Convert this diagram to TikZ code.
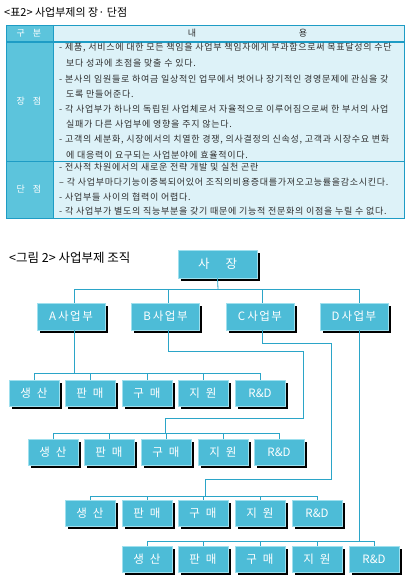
\documentclass[tikz,border=0pt]{standalone}
\usepackage{fontspec}
\setmainfont{Noto Sans CJK KR}
\usetikzlibrary{shadows}
\definecolor{boxc}{HTML}{4DBCD7}
\definecolor{boxedge}{HTML}{9FE0EE}
\definecolor{lcol}{HTML}{2BA5C8}
\definecolor{tcyan}{HTML}{5CC4DC}
\definecolor{tlight}{HTML}{DDF2F8}
\definecolor{tline}{HTML}{1E9CC5}
\definecolor{ttext}{HTML}{2E2E2E}
\begin{document}
\begin{tikzpicture}[x=1pt,y=-1pt,
  box/.style={fill=boxc, draw=boxedge, line width=0.6pt, text=white, inner sep=0pt,
    font=\fontsize{11.5}{13}\selectfont,
    drop shadow={shadow xshift=2.5pt, shadow yshift=-2.5pt, fill=black, opacity=1}},
  topbox/.style={box, minimum width=79pt, minimum height=28pt, font=\fontsize{12.5}{14}\selectfont},
  divbox/.style={box, minimum width=68pt, minimum height=27pt},
  unitbox/.style={box, minimum width=50pt, minimum height=26pt},
  conn/.style={draw=lcol, line width=0.8pt},
  tline/.style={draw=tline, line width=0.9pt},
  ttxt/.style={anchor=west, inner sep=0pt, text=ttext, font=\fontsize{9}{10}\selectfont\addfontfeatures{LetterSpace=8}},
  thead/.style={inner sep=0pt, text=white, font=\fontsize{9}{10}\selectfont},
  title/.style={anchor=west, inner sep=0pt, text=black, font=\fontsize{11}{13}\selectfont}]
\useasboundingbox (0,0) rectangle (412,583);
\fill[white] (0,0) rectangle (412,583);

% ---------- table ----------
\node[title] (t1) at (4,12) {<표2> 사업부제의 장· 단점};
\fill[tlight] (6,25) rectangle (404,218);
\fill[tcyan] (6,25) rectangle (53,218);
\draw[tline] (6,25) rectangle (404,218);
\draw[tline] (53,25) -- (53,218);
\draw[tline, line width=1.3pt] (6,42) -- (404,42);
\draw[tline] (6,161) -- (404,161);

\node[thead] (h1) at (29,33.5) {구\hspace{8pt}분};
\node[thead, text=ttext] (h2) at (192,33.5) {내};
\node[thead, text=ttext] (h3) at (303,33.5) {용};
\node[thead] (h4) at (29,101) {장\hspace{8pt}점};
\node[thead] (h5) at (29,189.5) {단\hspace{8pt}점};

\node[ttxt] (a1) at (59,48) {- 제품, 서비스에 대한 모든 책임을 사업부 책임자에게 부과함으로써 목표달성의 수단};
\node[ttxt] (a2) at (66,63.5) {보다 성과에 초점을 맞출 수 있다.};
\node[ttxt] (a3) at (59,79) {- 본사의 임원들로 하여금 일상적인 업무에서 벗어나 장기적인 경영문제에 관심을 갖};
\node[ttxt] (a4) at (66,94) {도록 만들어준다.};
\node[ttxt] (a5) at (59,109.5) {- 각 사업부가 하나의 독립된 사업체로서 자율적으로 이루어짐으로써 한 부서의 사업};
\node[ttxt] (a6) at (66,124.5) {실패가 다른 사업부에 영향을 주지 않는다.};
\node[ttxt] (a7) at (59,140) {- 고객의 세분화, 시장에서의 치열한 경쟁, 의사결정의 신속성, 고객과 시장수요 변화};
\node[ttxt] (a8) at (66,155) {에 대응력이 요구되는 사업분야에 효율적이다.};
\node[ttxt] (b1) at (59,167.5) {- 전사적 차원에서의 새로운 전략 개발 및 실천 곤란};
\node[ttxt] (b2) at (59,182) {– 각 사업부마다기능이중복되어있어 조직의비용증대를가져오고능률을감소시킨다.};
\node[ttxt] (b3) at (59,197) {- 사업부들 사이의 협력이 어렵다.};
\node[ttxt] (b4) at (59,211.5) {- 각 사업부가 별도의 직능부분을 갖기 때문에 기능적 전문화의 이점을 누릴 수 없다.};

% ---------- org chart ----------
\node[title, font=\fontsize{12.5}{14}\selectfont] (t2) at (9,258) {<그림 2> 사업부제 조직};

\node[topbox] (boss) at (217.5,264) {사\hspace{16pt}장};
\node[divbox] (A) at (71,316.5) {A\hspace{2pt}사\hspace{1.5pt}업\hspace{1.5pt}부};
\node[divbox] (B) at (165.5,316.5) {B\hspace{2pt}사\hspace{1.5pt}업\hspace{1.5pt}부};
\node[divbox] (C) at (260,316.5) {C\hspace{2pt}사\hspace{1.5pt}업\hspace{1.5pt}부};
\node[divbox] (D) at (354,316.5) {D\hspace{2pt}사\hspace{1.5pt}업\hspace{1.5pt}부};

% unit rows
\foreach \r/\y/\xa/\xb/\xc/\xd/\xe in {1/393.5/34/90/147/203/260, 2/452.5/53/109/166/223/279, 3/513/90/147/203/260/317, 4/559.5/147/203/260/317/374}{
  \node[unitbox] (r\r a) at (\xa,\y) {생\hspace{6pt}산};
  \node[unitbox] (r\r b) at (\xb,\y) {판\hspace{6pt}매};
  \node[unitbox] (r\r c) at (\xc,\y) {구\hspace{6pt}매};
  \node[unitbox] (r\r d) at (\xd,\y) {지\hspace{6pt}원};
  \node[unitbox] (r\r e) at (\xe,\y) {R\&D};
}

% connectors: president to divisions
\draw[conn] (boss.south) -- (218,289);
\draw[conn] (74,289) -- (359,289);
\draw[conn] (74,289) -- ([xshift=3pt]A.north);
\draw[conn] (168,289) -- ([xshift=2.5pt]B.north);
\draw[conn] (262,289) -- ([xshift=2pt]C.north);
\draw[conn] (359,289) -- ([xshift=5pt]D.north);

% division A -> row 1
\draw[conn] ([xshift=3pt]A.south) -- (74,373);
% division B -> row 2
\draw[conn] ([xshift=2.5pt]B.south) |- (303,351) -- (303,418) -| (165,433);
% division C -> row 3
\draw[conn] ([xshift=2pt]C.south) |- (331,343) -- (331,479) -| (205,496);
% division D -> row 4
\draw[conn] ([xshift=5pt]D.south) -- (359,541);

% row buses and ticks
\foreach \r/\by in {1/373, 2/433, 3/496, 4/541}{
  \draw[conn] (r\r a.north |- 0,\by) -- (r\r e.north |- 0,\by);
  \foreach \u in {a,b,c,d,e}{
    \draw[conn] (r\r\u.north) -- (r\r\u.north |- 0,\by);
  }
}
\end{tikzpicture}
\end{document}
